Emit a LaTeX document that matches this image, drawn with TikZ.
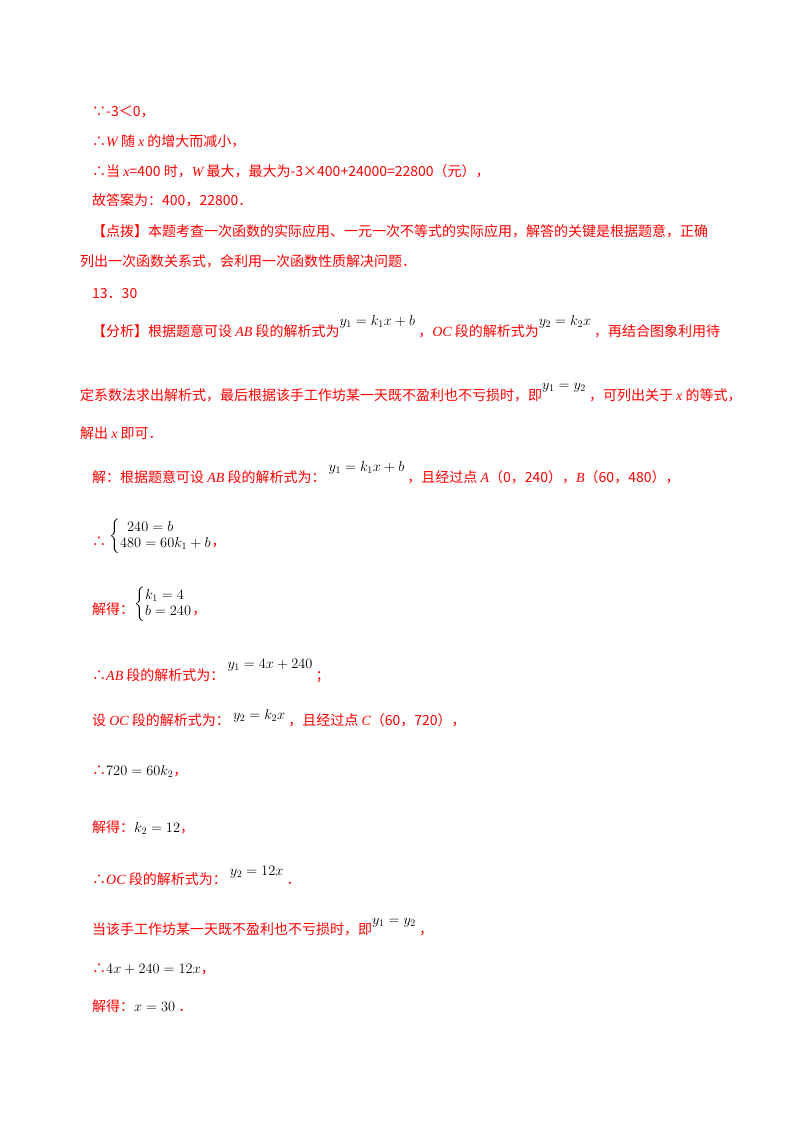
\documentclass[tikz,border=0pt]{standalone}
\usepackage{fontspec}
\setmainfont{Noto Sans CJK SC}
\newfontfamily\tnr{Liberation Serif}
\usepackage{amsmath}
\newcommand{\iv}[1]{{\tnr\itshape #1}}
\newcommand{\mk}[1]{\textcolor{black}{$#1$}}
\newcommand{\up}[2]{\raisebox{#1}{\mk{#2}}}
\begin{document}
\begin{tikzpicture}[x=1pt,y=-1pt]
\tikzset{t/.style={anchor=base west,inner sep=0,text=red,font=\fontsize{14}{16}\selectfont}}
\fill[white] (0,0) rectangle (800,1132);
\useasboundingbox (0,0) rectangle (800,1132);
\node[t] (l1) at (92,116) {∵-3＜0，};
\node[t] (l2) at (92,146) {∴\iv{W} 随 \iv{x} 的增大而减小，};
\node[t] (l3) at (92,176) {∴当 \iv{x}=400 时，\iv{W} 最大，最大为-3×400+24000=22800（元），};
\node[t] (l4) at (92,205) {故答案为：400，22800．};
\node[t] (l5) at (92,236) {【点拨】本题考查一次函数的实际应用、一元一次不等式的实际应用，解答的关键是根据题意，正确};
\node[t] (l6) at (80,266) {列出一次函数关系式，会利用一次函数性质解决问题．};
\node[t] (l7) at (92,298) {13．30};
\node[t] (l8) at (92,336) {【分析】根据题意可设 \iv{AB} 段的解析式为\up{11pt}{y_1=k_1x+b}\ ，\iv{OC} 段的解析式为\up{11pt}{y_2=k_2x}\ ，再结合图象利用待};
\node[t] (l9) at (80,400) {定系数法求出解析式，最后根据该手工作坊某一天既不盈利也不亏损时，即\up{11pt}{y_1=y_2}\ ，可列出关于 \iv{x} 的等式，};
\node[t] (l10) at (80,438) {解出 \iv{x} 即可．};
\node[t] (l11) at (92,482) {解：根据题意可设 \iv{AB} 段的解析式为：\ \up{11pt}{y_1=k_1x+b}\ ，且经过点 \iv{A}（0，240），\iv{B}（60，480），};
\node[t] (l12) at (92,546) {∴\ \raisebox{6pt}{\mk{\left\{\begin{array}{@{}l@{}}\hphantom{4}240=b\\480=60k_1+b\end{array}\right.}}，};
\node[t] (l13) at (92,614) {解得：\raisebox{6pt}{\mk{\left\{\begin{array}{@{}l@{}}k_1=4\\b=240\end{array}\right.}}，};
\node[t] (l14) at (92,680) {∴\iv{AB} 段的解析式为：\ \up{12pt}{y_1=4x+240}\ ；};
\node[t] (l15) at (92,725) {设 \iv{OC} 段的解析式为：\ \up{6pt}{y_2=k_2x}\ ，且经过点 \iv{C}（60，720），};
\node[t] (l16) at (92,775) {∴\mk{720=60k_2}，};
\node[t] (l17) at (92,832) {解得：\mk{k_2=12}，};
\node[t] (l18) at (92,884) {∴\iv{OC} 段的解析式为：\ \up{9pt}{y_2=12x}\ ．};
\node[t] (l19) at (92,934) {当该手工作坊某一天既不盈利也不亏损时，即\up{10pt}{y_1=y_2}\ ，};
\node[t] (l20) at (92,973) {∴\mk{4x+240=12x}，};
\node[t] (l21) at (92,1011) {解得：\mk{x=30}\ ．};
\end{tikzpicture}
\end{document}
